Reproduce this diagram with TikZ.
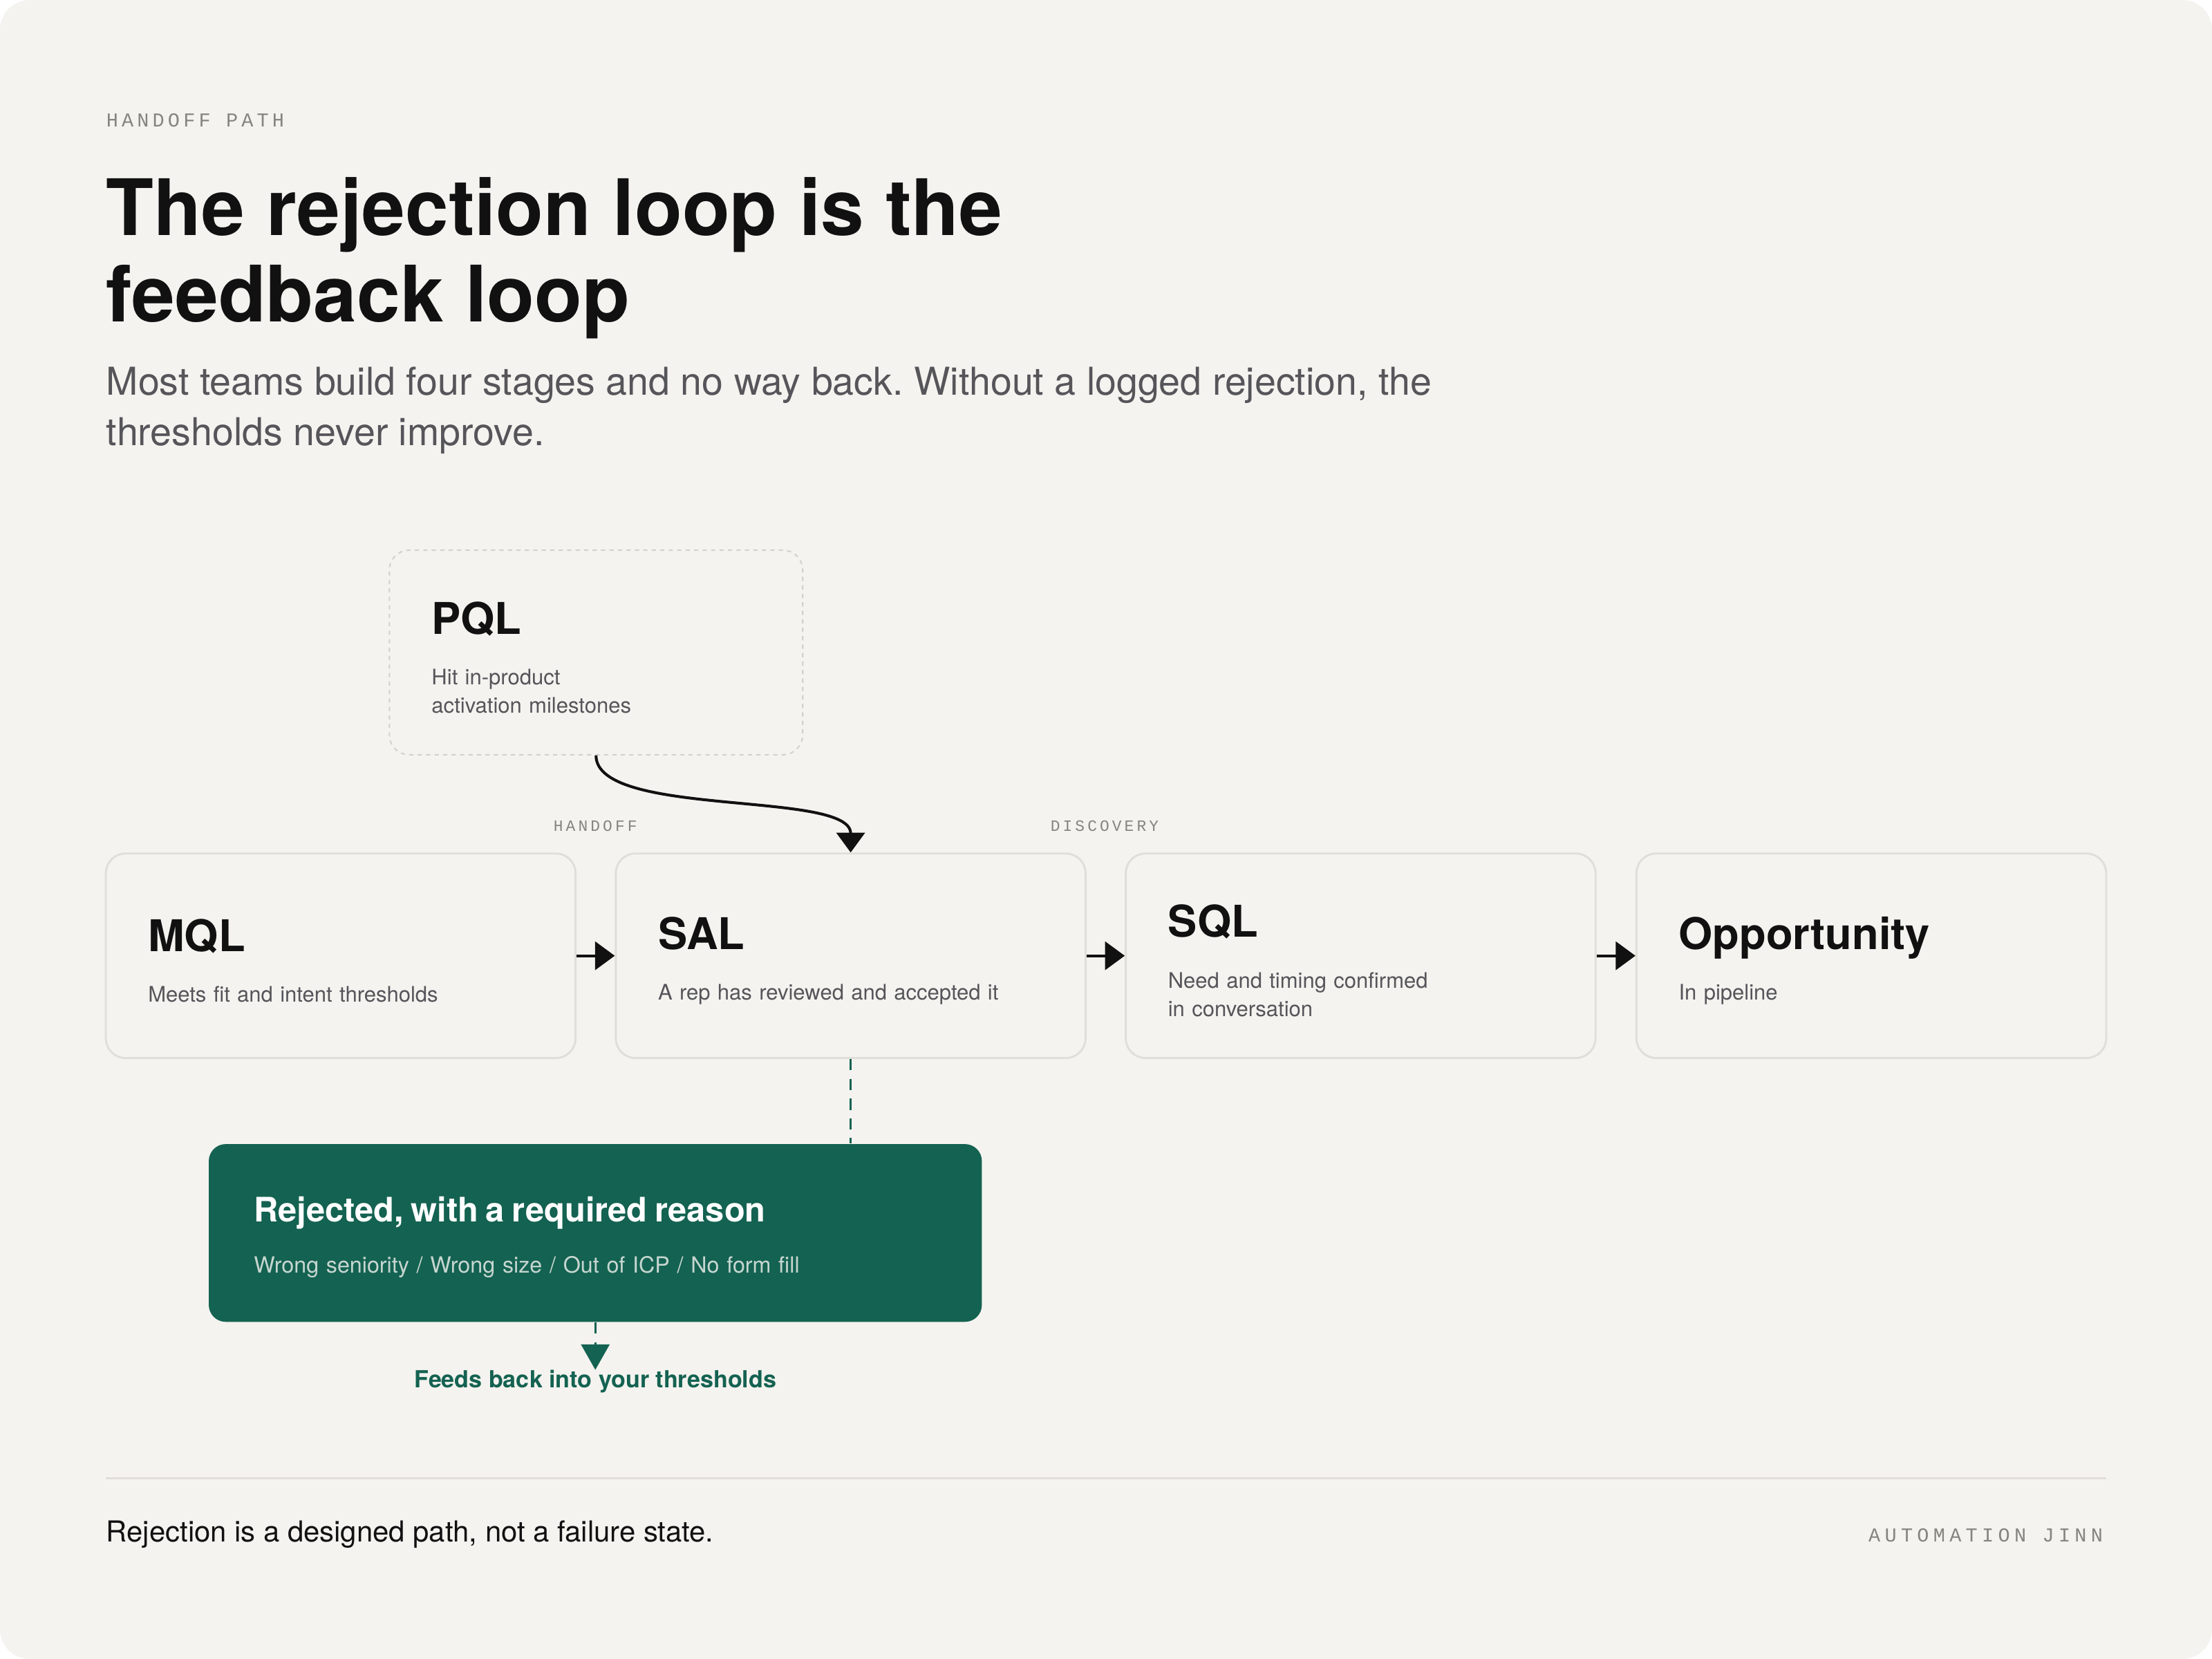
\documentclass[tikz,border=0pt]{standalone}
\usepackage{fontspec}
\setmainfont{TeX Gyre Heros}
\newfontfamily\labelfont{Liberation Mono}[LetterSpace=18]
\newfontfamily\brandfont{Liberation Mono}[LetterSpace=22]
\usetikzlibrary{arrows.meta,positioning,calc}
\frenchspacing

\definecolor{paper}{HTML}{F4F3EF}
\definecolor{edge}{HTML}{E0DED8}
\definecolor{ink}{HTML}{111111}
\definecolor{muted}{HTML}{55555A}
\definecolor{tag}{HTML}{85857F}
\definecolor{pine}{HTML}{146251}
\definecolor{mist}{HTML}{C6D6D0}

\newcommand\notefont{\fontsize{7.6}{10}\selectfont}
\newcommand\stagename[1]{{\color{ink}\fontsize{15.5}{18}\selectfont\bfseries\rule{0pt}{15pt}#1}}

\tikzset{
  stage/.style={draw=edge, line width=0.7pt, fill=paper, rounded corners=7pt,
    minimum width=166.5pt, minimum height=72.5pt, inner sep=0pt,
    text width=136.5pt, align=left, font=\notefont, text=muted},
  stepline/.style={line width=1pt, draw=ink, -{Triangle[length=7pt,width=10pt]}},
  rejectline/.style={line width=0.8pt, draw=pine, dash pattern=on 4pt off 3pt},
  tagtext/.style={font=\labelfont\fontsize{5.6}{7}\selectfont, text=tag, inner sep=0pt}
}

\begin{document}
\begin{tikzpicture}[x=0.5pt,y=-0.5pt]
% page
\fill[white] (0,0) rectangle (1568,1176);
\fill[paper, rounded corners=10.5pt] (0,0) rectangle (1568,1176);
\useasboundingbox (0,0) rectangle (1568,1176);

% heading
\node[tagtext, font=\labelfont\fontsize{7}{9}\selectfont, anchor=base west] (kicker) at (75,90) {HANDOFF PATH};
\node[anchor=base west, inner sep=0pt, text=ink, font=\fontsize{27.6}{30}\selectfont\bfseries] (title1) at (75,167) {The rejection loop is the};
\node[anchor=base west, inner sep=0pt, text=ink, font=\fontsize{27.6}{30}\selectfont\bfseries] (title2) at (75,228) {feedback loop};
\node[anchor=base west, inner sep=0pt, text=muted, font=\fontsize{13.6}{15}\selectfont] (lead1) at (75,280) {Most teams build four stages and no way back. Without a logged rejection, the};
\node[anchor=base west, inner sep=0pt, text=muted, font=\fontsize{13.6}{15}\selectfont] (lead2) at (75,316) {thresholds never improve.};

% stages
\node[stage, draw=edge!80!black!60, dash pattern=on 1.5pt off 1.5pt, line width=0.5pt,
  minimum width=146.5pt, text width=116.5pt] (pql) at (422.5,462.5)
  {\stagename{PQL}\\[8pt]Hit in-product\\activation milestones};
\node[stage] (mql) at (241.5,677.5) {\stagename{MQL}\\[8pt]Meets fit and intent thresholds};
\node[stage] (sal) at (603,677.5) {\stagename{SAL}\\[8pt]A rep has reviewed and accepted it};
\node[stage] (sql) at (964.5,677.5) {\stagename{SQL}\\[8pt]Need and timing confirmed\\in conversation};
\node[stage] (opp) at (1326.5,677.5) {\stagename{Opportunity}\\[8pt]In pipeline};

\node[tagtext, anchor=base] (handoff) at (422,589) {HANDOFF};
\node[tagtext, anchor=base] (discovery) at (783,589) {DISCOVERY};

\draw[stepline] (mql.east) -- (sal.west);
\draw[stepline] (sal.east) -- (sql.west);
\draw[stepline] (sql.east) -- (opp.west);
\draw[stepline] (pql.south) .. controls (422.5,580) and (603,560) .. (sal.north);

% rejection path
\node[fill=pine, rounded corners=6pt, minimum width=274pt, minimum height=63pt,
  inner sep=0pt, text width=242pt, align=left, text=mist, font=\fontsize{7.9}{10}\selectfont]
  (reject) at (422,874)
  {{\color{white}\fontsize{11.95}{14}\selectfont\bfseries\rule{0pt}{12pt}Rejected, with a required reason}\\[8pt]Wrong seniority / Wrong size / Out of ICP / No form fill};
\node[anchor=north, inner sep=0pt, text=pine, font=\fontsize{8.35}{10}\selectfont\bfseries] (feed) at (422,971) {Feeds back into your thresholds};

\draw[rejectline] (sal.south) -- (sal.south |- reject.north);
\draw[rejectline, -{Triangle[length=9pt,width=10pt]}] (reject.south) -- (feed.north);

% footer
\draw[edge, line width=0.75pt] (75,1048) -- (1493,1048);
\node[anchor=base west, inner sep=0pt, text=ink, font=\fontsize{10.25}{12}\selectfont] (moral) at (75,1093) {Rejection is a designed path, not a failure state.};
\node[tagtext, font=\brandfont\fontsize{7}{9}\selectfont, anchor=base east] (brand) at (1491,1093) {AUTOMATION JINN};
\end{tikzpicture}
\end{document}
